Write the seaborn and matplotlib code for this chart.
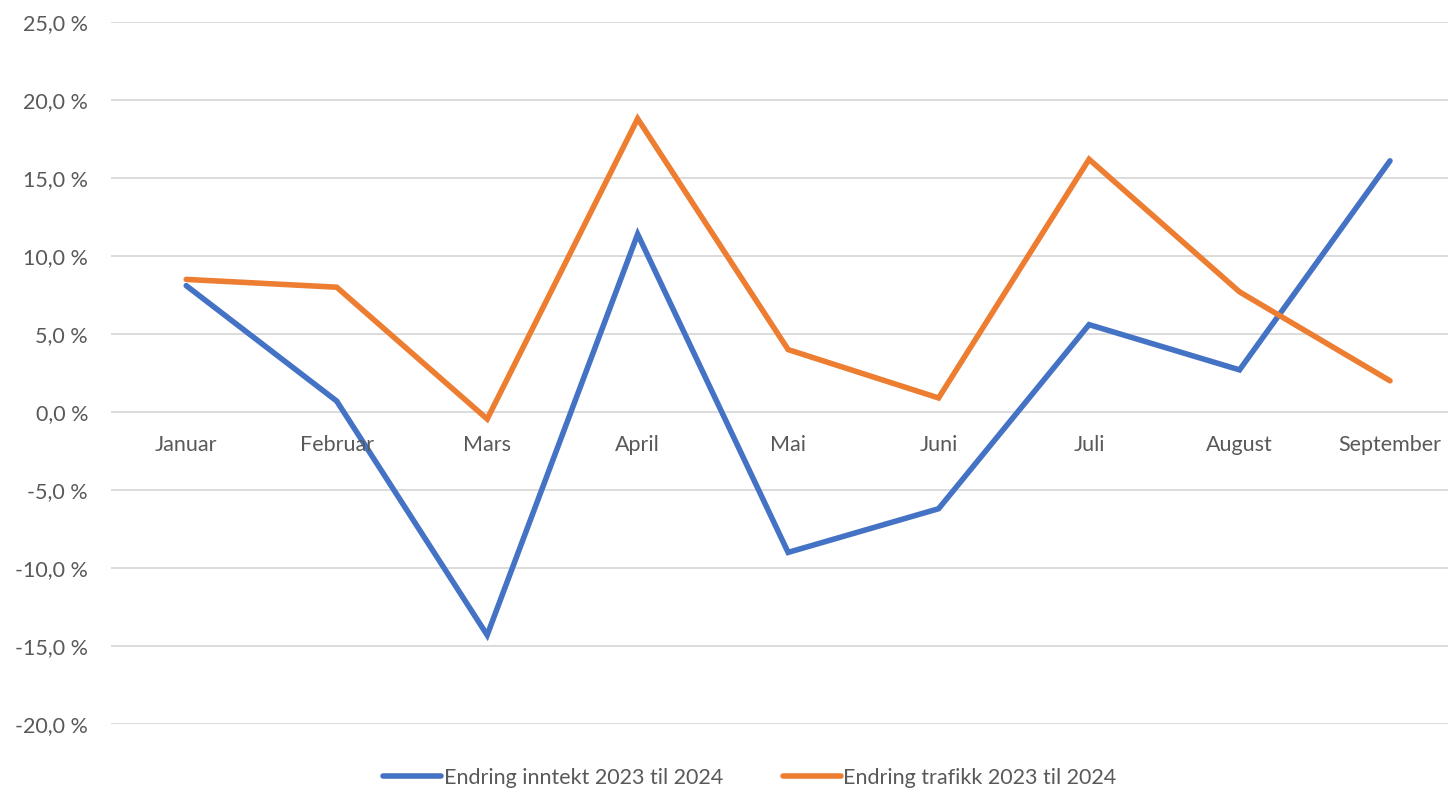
import pandas as pd
import numpy as np
import matplotlib.pyplot as plt
import seaborn as sns
from matplotlib.ticker import FuncFormatter

months = ['Januar', 'Februar', 'Mars', 'April', 'Mai', 'Juni', 'Juli', 'August', 'September']
inntekt = [8.1, 0.7, -14.3, 11.4, -9.0, -6.2, 5.6, 2.7, 16.1]
trafikk = [8.5, 8.0, -0.45, 18.8, 4.0, 0.9, 16.2, 7.7, 2.0]
series_names = ['Endring inntekt 2023 til 2024', 'Endring trafikk 2023 til 2024']
colors = ['#4472C4', '#ED7D31']

df = pd.DataFrame({
    'pos': list(range(len(months))) * 2,
    'verdi': inntekt + trafikk,
    'serie': [series_names[0]] * len(months) + [series_names[1]] * len(months),
})

sns.set_style('white')
plt.rcParams['font.family'] = ['Lato', 'DejaVu Sans']

fig = plt.figure(figsize=(14.48, 7.88), dpi=100)
ax = fig.add_axes([111 / 1448, 64 / 788, 1 - 111 / 1448, 702 / 788])

sns.lineplot(data=df, x='pos', y='verdi', hue='serie', palette=colors,
             linewidth=4.0, ax=ax, legend=False, sort=False,
             solid_capstyle='round', solid_joinstyle='miter')

ax.set_xlim(-0.5, (1448 - 186) / 150.5)
ax.set_ylim(-20, 25)
ax.set_yticks(np.arange(-20, 26, 5))
ax.yaxis.set_major_formatter(FuncFormatter(lambda v, p: '{:.1f} %'.format(v).replace('.', ',')))
ax.tick_params(axis='y', labelsize=15.5, labelcolor='#595959', length=0, pad=16.5)
ax.set_xticks([])
ax.set_xlabel('')
ax.set_ylabel('')
ax.grid(axis='y', color='#D9D9D9', linewidth=1.3)
ax.set_axisbelow(True)
for s in ax.spines.values():
    s.set_visible(False)

for i, m in enumerate(months):
    ax.annotate(m, (i, 0), xytext=(0, -33), textcoords='offset pixels',
                ha='center', va='center', fontsize=15.5, color='#595959')

handles = [plt.Line2D([], [], color=c, linewidth=4.0, solid_capstyle='round') for c in colors]
fig.legend(handles, series_names, loc='center', bbox_to_anchor=(750 / 1448, 1 - 778 / 788),
           ncol=2, frameon=False, handlelength=2.7, handletextpad=0.1, columnspacing=2.8,
           prop={'size': 15.5}, labelcolor='#595959')

fig.savefig('out.png', dpi=100, facecolor='white')
